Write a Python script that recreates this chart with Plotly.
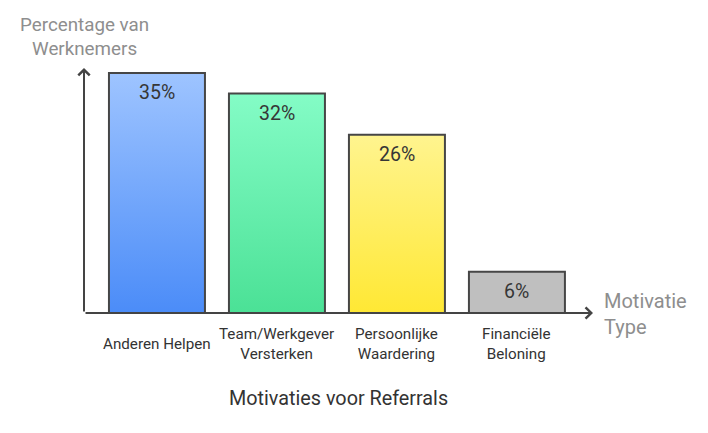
import plotly.graph_objects as go

categories = ["Anderen Helpen", "Team/Werkgever<br>Versterken", "Persoonlijke<br>Waardering", "Financiële<br>Beloning"]
values = [35, 32, 26, 6]
labels = ["35%", "32%", "26%", "6%"]
top_colors = ["#9ec4ff", "#84fcc6", "#fff48f", "#bfbfbf"]
bottom_colors = ["#4b8cf8", "#4be196", "#ffe834", "#bfbfbf"]

FONT = "Roboto, Arial, sans-serif"
BAR_W = 0.8

fig = go.Figure()
for i, (v, ct, cb) in enumerate(zip(values, top_colors, bottom_colors)):
    x0, x1 = i - BAR_W / 2, i + BAR_W / 2
    fig.add_trace(go.Scatter(
        x=[x0, x0, x1, x1, x0], y=[0, v, v, 0, 0],
        mode="lines", fill="toself",
        fillgradient=dict(type="vertical", colorscale=[[0, cb], [1, ct]]),
        line=dict(color="#464646", width=2),
        hoverinfo="skip", showlegend=False,
    ))

annotations = []
for i, (v, lab) in enumerate(zip(values, labels)):
    annotations.append(dict(x=i, y=v, xref="x", yref="y", text=lab, showarrow=False,
                            yanchor="top", yshift=-6,
                            font=dict(family=FONT, size=19.5, color="#363636")))
for i, cat in enumerate(categories):
    annotations.append(dict(x=i, y=0, xref="x", yref="paper", text=cat, showarrow=False,
                            yanchor="middle", yshift=-31, align="center",
                            font=dict(family=FONT, size=15.2, color="#333333")))

# axis arrows
annotations.append(dict(x=0, y=1, xref="paper", yref="paper", ax=0, ay=245, axref="pixel", ayref="pixel",
                        showarrow=True, arrowhead=4, arrowsize=1.1, arrowwidth=2, arrowcolor="#444444",
                        text="", standoff=0))
annotations.append(dict(x=1, y=0, xref="paper", yref="paper", ax=-509, ay=0, axref="pixel", ayref="pixel",
                        showarrow=True, arrowhead=4, arrowsize=1.1, arrowwidth=2, arrowcolor="#444444",
                        text="", standoff=0))

# axis titles
annotations.append(dict(x=0, y=1, xref="paper", yref="paper", text="Percentage van<br>Werknemers",
                        showarrow=False, xanchor="center", yanchor="middle", xshift=0, yshift=31,
                        align="center", font=dict(family=FONT, size=18.8, color="#8e8e8e")))
annotations.append(dict(x=1, y=0, xref="paper", yref="paper", text="Motivatie<br>Type",
                        showarrow=False, xanchor="left", yanchor="middle", xshift=9, yshift=-1,
                        align="left", font=dict(family=FONT, size=20, color="#8e8e8e")))
annotations.append(dict(x=0.5, y=0, xref="paper", yref="paper", text="Motivaties voor Referrals",
                        showarrow=False, xanchor="center", yanchor="middle", yshift=-85,
                        font=dict(family=FONT, size=19.8, color="#333333")))

fig.update_layout(
    width=700, height=425,
    margin=dict(l=76, r=115, t=60, b=120),
    paper_bgcolor="white", plot_bgcolor="white",
    xaxis=dict(range=[-0.608, 3.634], showgrid=False, zeroline=False, showline=False,
               showticklabels=False, ticks=""),
    yaxis=dict(range=[0, 35.73], showgrid=False, zeroline=False, showline=False,
               showticklabels=False, ticks=""),
    annotations=annotations,
)

fig.write_html("out.html")
